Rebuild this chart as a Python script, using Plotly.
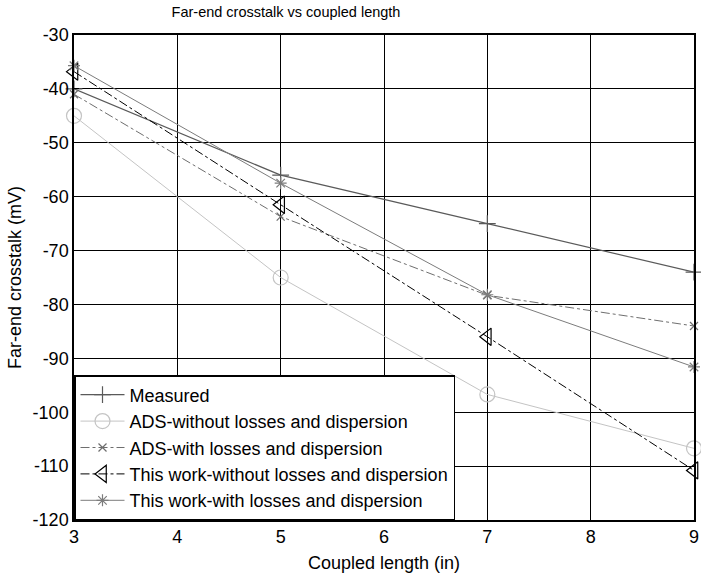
import plotly.graph_objects as go

x_len = [3, 5, 7, 9]
measured = [-40, -56, -65, -74]
ads_without = [-45, -75, -96.7, -106.7]
ads_with = [-41, -63.7, -78.3, -84]
work_without = [-36.8, -61.5, -86, -110.8]
work_with = [-35.7, -57.5, -78.2, -91.6]

names = ["Measured", "ADS-without losses and dispersion", "ADS-with losses and dispersion",
         "This work-without losses and dispersion", "This work-with losses and dispersion"]

x_ticks = [3, 4, 5, 6, 7, 8, 9]
y_ticks = [-30, -40, -50, -60, -70, -80, -90, -100, -110, -120]
y_tick_text = ["-30", "-40", "-50", "-60", "-70", "-80", "-90", "-100", "-110", "-120"]

FONT = "Liberation Sans, Arial, sans-serif"

fig = go.Figure()
series = [
    (measured, names[0], "#5a5a5a", "solid", "cross-thin", 12, 1.2),
    (ads_without, names[1], "#c4c4c4", "solid", "circle-open", 15, 1),
    (ads_with, names[2], "#6e6e6e", "dashdot", "x-thin", 8, 1),
    (work_without, names[3], "#000000", "dashdot", "triangle-left-open", 15, 1),
    (work_with, names[4], "#7c7c7c", "solid", "asterisk-open", 10, 1),
]
for ys, nm, col, dash, sym, sz, lw in series:
    fig.add_trace(go.Scatter(
        x=x_len, y=ys, name=nm, mode="lines+markers",
        line=dict(color=col, width=lw, dash=dash),
        marker=dict(symbol=sym, size=sz, color=col, line=dict(color=col, width=1.2)),
        cliponaxis=False,
    ))

fig.update_layout(
    width=701, height=574,
    margin=dict(l=74, r=2, t=35, b=54),
    paper_bgcolor="white", plot_bgcolor="white",
    font=dict(family=FONT, size=18, color="black"),
    title=dict(text="Far-end crosstalk vs coupled length", x=286/701, xref="container",
               xanchor="center", y=1 - 12/574, yanchor="middle",
               font=dict(size=14.5, family=FONT)),
    legend=dict(x=0, y=0, xanchor="left", yanchor="bottom", bgcolor="white",
                bordercolor="black", borderwidth=1.5, font=dict(size=18, family=FONT),
                tracegroupgap=0, itemwidth=44),
    showlegend=True,
)
fig.update_xaxes(range=[3, 9], tickvals=x_ticks, showgrid=True, gridcolor="black", gridwidth=1,
                 showline=True, linecolor="black", linewidth=1.5,
                 mirror=True, ticks="inside", ticklen=5, tickcolor="black", zeroline=False,
                 ticklabeloverflow="allow",
                 tickfont=dict(size=18), title=dict(text="Coupled length (in)", font=dict(size=18), standoff=10))
fig.update_yaxes(range=[-120, -30], tickvals=y_ticks, ticktext=y_tick_text, showgrid=True,
                 gridcolor="black", gridwidth=1,
                 showline=True, linecolor="black", linewidth=1.5,
                 mirror=True, ticks="inside", ticklen=5, tickcolor="black", zeroline=False,
                 tickfont=dict(size=18), title=dict(text="Far-end crosstalk (mV)", font=dict(size=18), standoff=6))

fig.write_html("out.html")
